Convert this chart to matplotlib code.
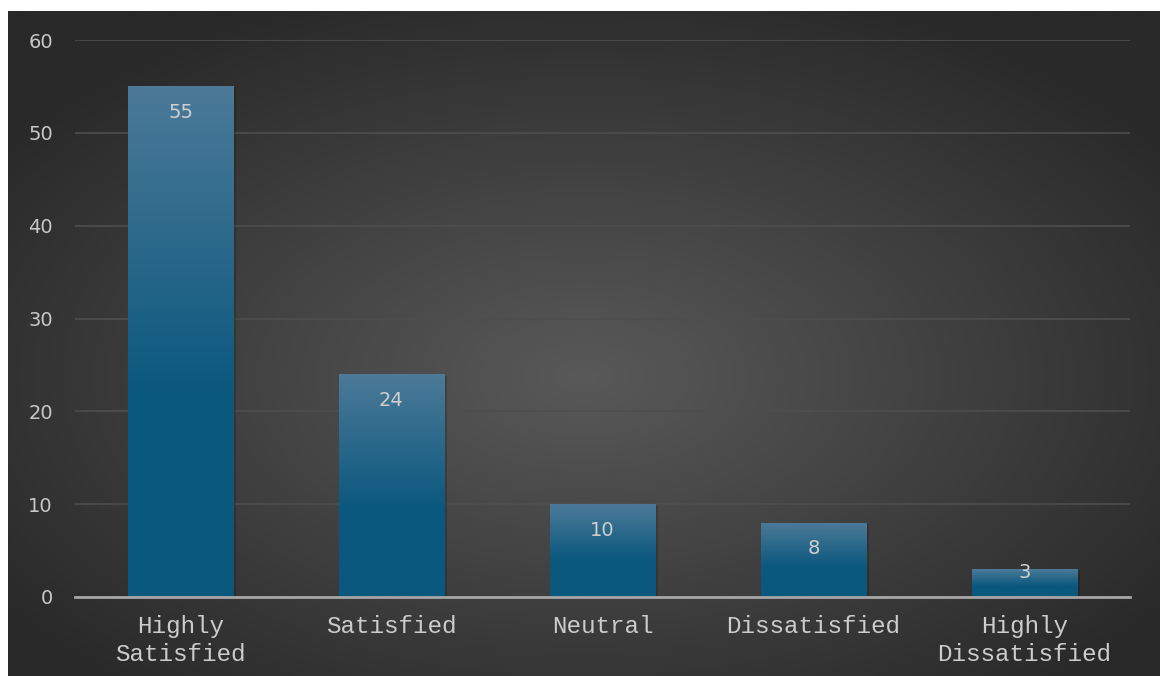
import numpy as np
import matplotlib.pyplot as plt
from matplotlib.patches import Rectangle

# ==========================================
# DATA
# ==========================================

categories = ["Highly\nSatisfied", "Satisfied", "Neutral", "Dissatisfied", "Highly\nDissatisfied"]
responses = [55, 24, 10, 8, 3]
y_ticks = [0, 10, 20, 30, 40, 50, 60]

# ==========================================
# FIGURE + RADIAL BACKGROUND
# ==========================================

W, H = 1160, 676
fig = plt.figure(figsize=(W / 100, H / 100), dpi=100)
fig.patch.set_facecolor("white")

bg = fig.add_axes([8 / W, 0, (W - 8) / W, (H - 11) / H])
bg.axis("off")
yy, xx = np.mgrid[0:1:400j, 0:1:700j]
r = np.sqrt(((xx - 0.5) / 0.62) ** 2 + ((yy - 0.55) / 0.62) ** 2)
r = np.clip(r, 0, 1)
inner = np.array([0x59, 0x59, 0x59]) / 255
outer = np.array([0x29, 0x29, 0x29]) / 255
img = inner[None, None, :] * (1 - r[..., None]) + outer[None, None, :] * r[..., None]
bg.imshow(img, aspect="auto", extent=[0, 1, 0, 1], interpolation="bilinear")
bg.set_xlim(0, 1)
bg.set_ylim(0, 1)

# ==========================================
# BAR CHART
# ==========================================

ax = fig.add_axes([75 / W, 1 - 597 / H, (1130 - 75) / W, (597 - 40) / H])
ax.patch.set_alpha(0)

x = np.arange(len(categories))
bars = ax.bar(x, responses, width=0.5, color="none", zorder=3)

top_c = np.array([0x4c, 0x7a, 0x98]) / 255
bot_c = np.array([0x0b, 0x58, 0x7e]) / 255

for b in bars:
    x0, w, h = b.get_x(), b.get_width(), b.get_height()
    # soft shadow
    ax.add_patch(Rectangle((x0 + 0.012, 0), w, h - 0.15, color="black", alpha=0.18, zorder=2, lw=0))
    # gradient: light top, dark from middle down
    t = np.linspace(0, 1, 256)
    f = np.clip((t - 0.4) / 0.6, 0, 1)[:, None]
    g = bot_c[None, :] * (1 - f) + top_c[None, :] * f
    im = ax.imshow(g[:, None, :], extent=[x0, x0 + w, 0, h], origin="lower",
                   aspect="auto", zorder=3, interpolation="bilinear")
    im.set_clip_path(Rectangle((x0, 0), w, h, transform=ax.transData))

for xi, v in zip(x, responses):
    ax.text(xi, max(v - 2.8, 2.6), str(v), ha="center", va="center", color="#cfcfcf",
            fontsize=14, family="DejaVu Sans", zorder=5)

ax.set_xlim(-0.5, len(categories) - 0.5)
ax.set_ylim(0, 60)
ax.set_yticks(y_ticks)
ax.set_xticks(x)
ax.set_xticklabels(categories, family="Liberation Mono", fontsize=17.5,
                   color="#cccccc", linespacing=1.25)
ax.tick_params(axis="x", length=0, pad=13)
ax.tick_params(axis="y", length=0, pad=16, labelcolor="#c8c8c8", labelsize=14)
for lab in ax.get_yticklabels():
    lab.set_family("DejaVu Sans")

ax.grid(axis="y", color="#4e4e4e", linewidth=1.2, zorder=0)
for s in ["top", "right", "left"]:
    ax.spines[s].set_visible(False)
ax.spines["bottom"].set_color("#a6a6a6")
ax.spines["bottom"].set_linewidth(2)
ax.spines["bottom"].set_zorder(6)

plt.savefig("out.png", dpi=100, facecolor=fig.get_facecolor())
